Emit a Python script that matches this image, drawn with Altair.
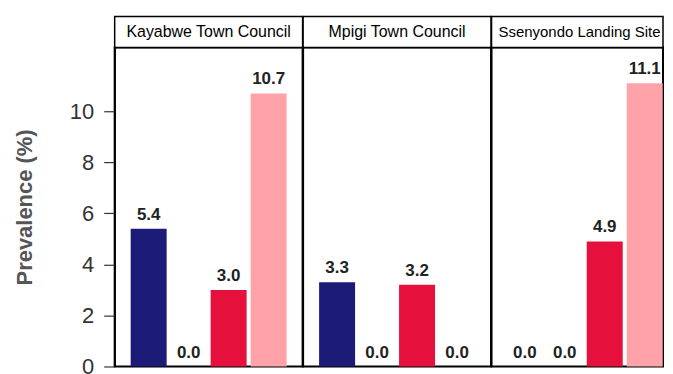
import altair as alt
import pandas as pd

sites = ["Kayabwe Town Council", "Mpigi Town Council", "Ssenyondo Landing Site"]
groups = ["Group 1", "Group 2", "Group 3", "Group 4"]
values = {
    "Kayabwe Town Council": [5.4, 0.0, 3.0, 10.7],
    "Mpigi Town Council": [3.3, 0.0, 3.2, 0.0],
    "Ssenyondo Landing Site": [0.0, 0.0, 4.9, 11.1],
}
colors = ["#1c1c78", "#6a8fd8", "#e5103c", "#ffa3a8"]

FONT = "Liberation Sans"
H = 320
SH = 31
# panel widths; the last panel is cut at the right edge of the picture
widths = [188.5, 188.5, 172]
aligns = [0.5, 0.5, 0.98]
outer = [0.4, 0.4, 0.195]


def panel(i, site):
    W = widths[i]
    d = pd.DataFrame({"group": groups, "value": values[site]})
    s = pd.DataFrame({"site": [site]})
    if i == 0:
        yaxis = alt.Axis(
            values=[0, 2, 4, 6, 8, 10], title="Prevalence (%)", grid=False,
            labelFont=FONT, labelFontSize=22, labelColor="#333333", labelPadding=10,
            tickSize=11, tickColor="#333333", tickWidth=1.2,
            domainColor="black", domainWidth=1.5,
            titleFont=FONT, titleFontSize=22, titleFontWeight="bold", titleColor="#555555",
            titleX=-78, titleY=H / 2, titleBaseline="bottom",
        )
    else:
        yaxis = None
    x = alt.X("group:N", sort=groups, axis=None,
              scale=alt.Scale(paddingInner=0.1, paddingOuter=outer[i], align=aligns[i]))
    y = alt.Y("value:Q", scale=alt.Scale(domain=[0, 12.5], nice=False), axis=yaxis)
    bars = alt.Chart(d).mark_bar().encode(
        x=x, y=y,
        color=alt.Color("group:N", scale=alt.Scale(domain=groups, range=colors), legend=None),
    )
    labels = alt.Chart(d).mark_text(
        font=FONT, fontSize=17, fontWeight="bold", color="#222222", baseline="bottom", dy=-5
    ).encode(x=x, y=y, text=alt.Text("value:Q", format=".1f"))
    box = alt.Chart(s).mark_rect(fill="white", stroke="black", strokeWidth=1.5).encode(
        x=alt.value(0), x2=alt.value(W), y=alt.value(-SH), y2=alt.value(0)
    )
    if i == 2:
        txt = alt.Chart(s).mark_text(font=FONT, fontSize=15, color="black", baseline="middle",
                                     align="left").encode(
            x=alt.value(7), y=alt.value(-SH / 2), text="site:N"
        )
    else:
        txt = alt.Chart(s).mark_text(font=FONT, fontSize=16, color="black", baseline="middle").encode(
            x=alt.value(W / 2), y=alt.value(-SH / 2), text="site:N"
        )
    return alt.layer(bars, labels, box, txt).properties(width=W, height=H)


chart = alt.hconcat(*[panel(i, s) for i, s in enumerate(sites)], spacing=0, bounds="flush").properties(
    padding={"top": 6, "left": 5, "right": 0, "bottom": 0}
).configure(background="white").configure_view(stroke="black", strokeWidth=2)

chart.save("out.html", embed_options={"renderer": "svg", "actions": False})
